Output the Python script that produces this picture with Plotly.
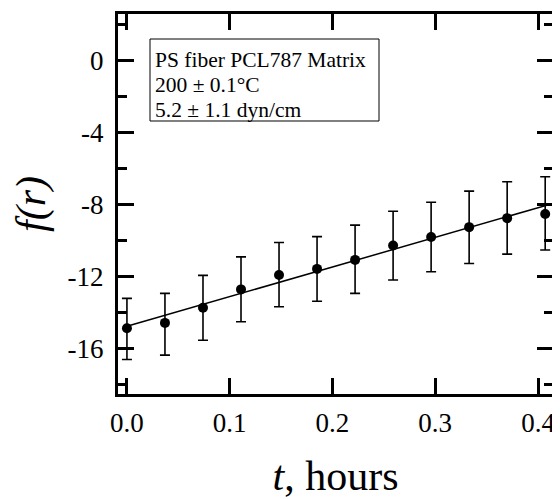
import plotly.graph_objects as go

# Data
t_hours = [0.0, 0.037, 0.074, 0.111, 0.148, 0.185, 0.222, 0.259, 0.296, 0.333, 0.370, 0.407]
f_r = [-14.9, -14.6, -13.76, -12.74, -11.94, -11.6, -11.1, -10.3, -9.83, -9.28, -8.78, -8.55]
err_plus = [1.66, 1.64, 1.8, 1.81, 1.81, 1.79, 1.93, 1.9, 1.93, 2.0, 2.02, 2.07]
err_minus = [1.73, 1.79, 1.8, 1.8, 1.76, 1.8, 1.86, 1.92, 1.93, 2.02, 2.0, 2.0]

fit_t = [0.0, 0.4146]
fit_f = [-14.79, -7.96]

x_ticks = [0.0, 0.1, 0.2, 0.3, 0.4]
x_ticklabels = ["0.0", "0.1", "0.2", "0.3", "0.4"]
y_ticks = [0, -4, -8, -12, -16]
y_ticklabels = ["0", "-4", "-8", "-12", "-16"]

info_lines = ["PS fiber PCL787 Matrix", "200 ± 0.1°C", "5.2 ± 1.1 dyn/cm"]

SERIF = "Liberation Serif, Times New Roman, serif"

fig = go.Figure()
fig.add_trace(go.Scatter(
    x=fit_t, y=fit_f, mode="lines",
    line=dict(color="black", width=1.5), showlegend=False, hoverinfo="skip"))
fig.add_trace(go.Scatter(
    x=t_hours, y=f_r, mode="markers",
    marker=dict(color="black", size=10),
    error_y=dict(type="data", symmetric=False, array=err_plus, arrayminus=err_minus,
                 color="black", thickness=1.6, width=5),
    showlegend=False))

axis_common = dict(
    showline=True, linecolor="black", linewidth=3, mirror="allticks",
    ticks="inside", ticklen=16, tickwidth=3, tickcolor="black",
    showgrid=False, zeroline=False, automargin=False,
    tickfont=dict(family=SERIF, size=27, color="black"),
)

fig.update_xaxes(
    range=[-0.0087, 0.4146], tickmode="array", tickvals=x_ticks, ticktext=x_ticklabels,
    title=dict(text="<i>t</i>, hours", font=dict(family=SERIF, size=42, color="black"), standoff=32),
    ticklabelstandoff=3,
    **axis_common)
fig.update_yaxes(
    range=[-18.55, 2.56], tickmode="array", tickvals=y_ticks, ticktext=y_ticklabels,
    minor=dict(tickmode="array", tickvals=[2, -2, -6, -10, -14, -18], ticks="inside",
               ticklen=9, tickwidth=3, tickcolor="black"),
    title=dict(text="<i>f(r)</i>", font=dict(family=SERIF, size=42, color="black"), standoff=16),
    ticklabelstandoff=6,
    **axis_common)

# Info box (frame + three text lines); plot area spans 435 x 380 px
fig.add_shape(type="rect", xref="paper", yref="paper",
              x0=(150 - 118) / 435, x1=(379 - 118) / 435,
              y0=(394 - 121) / 380, y1=(394 - 39) / 380,
              line=dict(color="black", width=1), fillcolor="white", layer="above")
for i, line in enumerate(info_lines):
    fig.add_annotation(
        xref="paper", yref="paper", x=(153 - 118) / 435, y=(394 - (60 + 25 * i)) / 380,
        xanchor="left", yanchor="middle", text=line, align="left", showarrow=False,
        font=dict(family=SERIF, size=21.5, color="black"))

fig.update_layout(
    width=552, height=491,
    margin=dict(l=110, r=7, t=6, b=105),
    paper_bgcolor="white", plot_bgcolor="white",
)

fig.write_html("out.html")
